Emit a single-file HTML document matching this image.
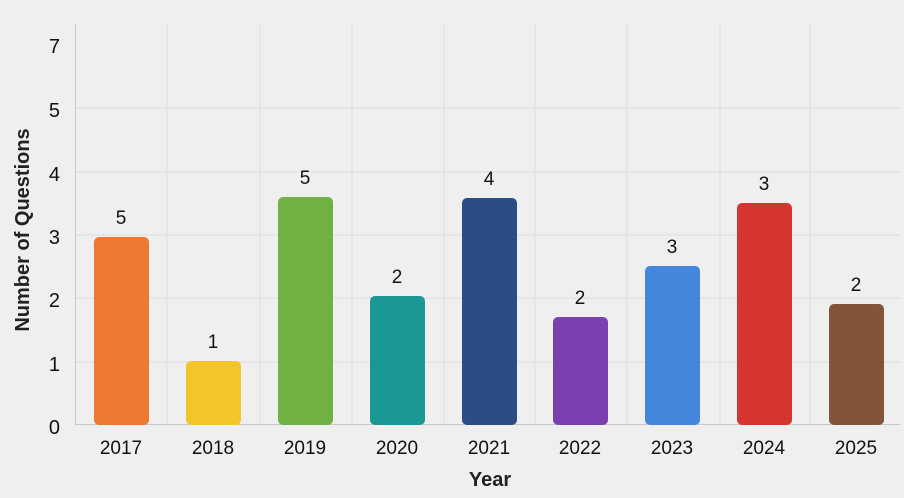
<!DOCTYPE html>
<html><head><meta charset="utf-8"><style>
html,body{margin:0;padding:0;background:#efefef;}
svg{display:block;font-family:"Liberation Sans","DejaVu Sans",sans-serif;}
</style></head><body>
<svg width="904" height="498" viewBox="0 0 904 498">
<rect width="904" height="498" fill="#efefef"/>
<g stroke="#dcdcdc" stroke-width="1">
<line x1="75" y1="108" x2="900" y2="108"/>
<line x1="75" y1="172" x2="900" y2="172"/>
<line x1="75" y1="235" x2="900" y2="235"/>
<line x1="75" y1="298" x2="900" y2="298"/>
<line x1="75" y1="362" x2="900" y2="362"/>
<line x1="167" y1="24" x2="167" y2="424"/>
<line x1="260" y1="24" x2="260" y2="424"/>
<line x1="352" y1="24" x2="352" y2="424"/>
<line x1="444" y1="24" x2="444" y2="424"/>
<line x1="535" y1="24" x2="535" y2="424"/>
<line x1="627" y1="24" x2="627" y2="424"/>
<line x1="720" y1="24" x2="720" y2="424"/>
<line x1="810" y1="24" x2="810" y2="424"/>
</g>
<line x1="75.5" y1="24" x2="75.5" y2="424" stroke="#c8c8c8"/>
<line x1="75" y1="424.5" x2="900" y2="424.5" stroke="#c8c8c8"/>
<g>
<rect x="94" y="237" width="55" height="188" rx="5" fill="#ec7a33"/>
<rect x="186" y="361" width="55" height="64" rx="5" fill="#f4c42b"/>
<rect x="278" y="197" width="55" height="228" rx="5" fill="#71b043"/>
<rect x="370" y="296" width="55" height="129" rx="5" fill="#1b9896"/>
<rect x="462" y="198" width="55" height="227" rx="5" fill="#2b4d86"/>
<rect x="553" y="317" width="55" height="108" rx="5" fill="#7b3fb0"/>
<rect x="645" y="266" width="55" height="159" rx="5" fill="#4587dc"/>
<rect x="737" y="203" width="55" height="222" rx="5" fill="#d63431"/>
<rect x="829" y="304" width="55" height="121" rx="5" fill="#835538"/>
</g>
<g font-size="19" fill="#111" text-anchor="middle">
<text x="121" y="224">5</text>
<text x="213" y="348">1</text>
<text x="305" y="184">5</text>
<text x="397" y="283">2</text>
<text x="489" y="185">4</text>
<text x="580" y="304">2</text>
<text x="672" y="253">3</text>
<text x="764" y="190">3</text>
<text x="856" y="291">2</text>
</g>
<g font-size="19" fill="#111" text-anchor="middle">
<text x="121" y="454">2017</text>
<text x="213" y="454">2018</text>
<text x="305" y="454">2019</text>
<text x="397" y="454">2020</text>
<text x="489" y="454">2021</text>
<text x="580" y="454">2022</text>
<text x="672" y="454">2023</text>
<text x="764" y="454">2024</text>
<text x="856" y="454">2025</text>
</g>
<g font-size="20" fill="#111" text-anchor="end">
<text x="60" y="53">7</text>
<text x="60" y="117">5</text>
<text x="60" y="181">4</text>
<text x="60" y="244">3</text>
<text x="60" y="307">2</text>
<text x="60" y="371">1</text>
<text x="60" y="434">0</text>
</g>
<text x="490" y="486" font-size="20" font-weight="bold" fill="#222" text-anchor="middle">Year</text>
<text transform="translate(29,230) rotate(-90)" font-size="20" font-weight="bold" fill="#222" text-anchor="middle">Number of Questions</text>
</svg>
</body></html>
